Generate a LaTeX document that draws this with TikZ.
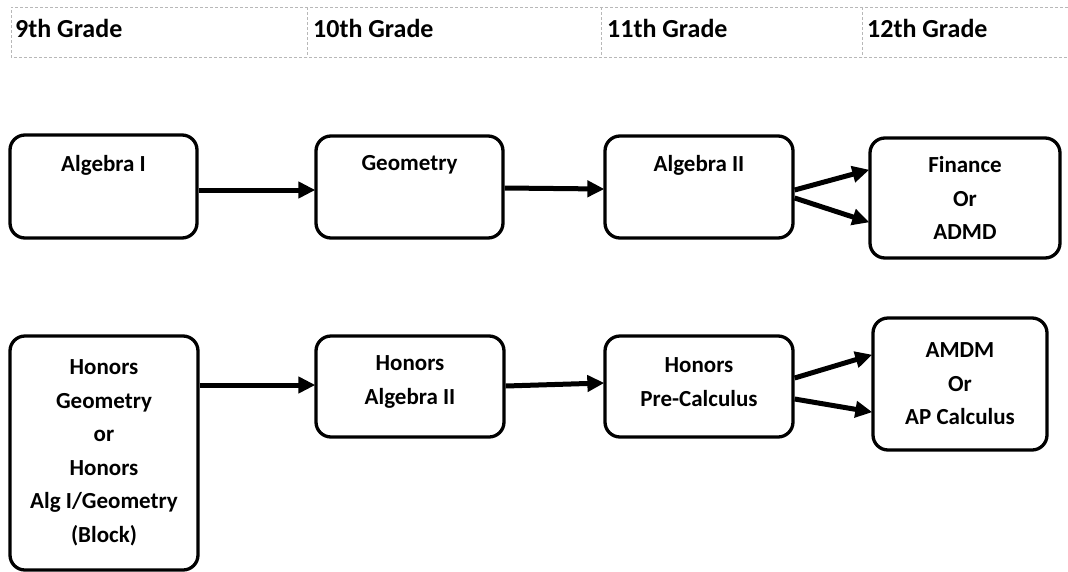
\documentclass[tikz,border=0pt]{standalone}
\usepackage{fontspec}
\setmainfont{Carlito}
\usetikzlibrary{arrows.meta}
\tikzset{
  box/.style={draw=black, line width=3.3pt, rounded corners=15pt, fill=white, inner sep=0pt},
  lbl/.style={font=\bfseries\fontsize{23}{33.5}\selectfont, align=center, inner sep=0pt},
  hdr/.style={font=\bfseries\fontsize{26}{30}\selectfont, anchor=base west, inner sep=0pt},
  grid/.style={draw=black!28, line width=0.8pt, dash pattern=on 3pt off 2pt},
  conn/.style={line width=5pt, -{Triangle[length=17pt,width=16pt]}, shorten >=-1pt}
}
\begin{document}
\begin{tikzpicture}[x=1pt,y=-1pt]
\useasboundingbox (0,0) rectangle (1068,571);
% header table
\coordinate (tl) at (11,7);
\coordinate (tr) at (1068,7);
\coordinate (bl) at (11,57);
\coordinate (br) at (1068,57);
\draw[grid] (tr) -- (tl) -- (bl) -- (br);
\coordinate (d1t) at (307,7); \coordinate (d1b) at (307,57);
\coordinate (d2t) at (601,7); \coordinate (d2b) at (601,57);
\coordinate (d3t) at (862,7); \coordinate (d3b) at (862,57);
\draw[grid] (d1t) -- (d1b);
\draw[grid] (d2t) -- (d2b);
\draw[grid] (d3t) -- (d3b);
\node[hdr] (h9) at (15,37) {9th Grade};
\node[hdr] (h10) at (313,37) {10th Grade};
\node[hdr] (h11) at (607,37) {11th Grade};
\node[hdr] (h12) at (867,37) {12th Grade};

% row 1
\node[box, minimum width=187pt, minimum height=103pt] (alg1) at (103.5,186.5) {};
\node[lbl] (alg1t) at (103.5,165) {Algebra I};
\node[box, minimum width=187pt, minimum height=102pt] (geo) at (409.5,187) {};
\node[lbl] (geot) at (409.5,165) {Geometry};
\node[box, minimum width=188pt, minimum height=102pt] (alg2) at (699,187) {};
\node[lbl] (alg2t) at (699,165) {Algebra II};
\node[box, minimum width=190pt, minimum height=120pt, lbl] (fin) at (965,198) {Finance\\Or\\ADMD};

% row 2
\node[box, minimum width=188pt, minimum height=234pt, lbl] (hgeo) at (104,453) {Honors\\Geometry\\or\\Honors\\Alg I/Geometry\\(Block)};
\node[box, minimum width=188pt, minimum height=101pt] (halg2) at (410,386.5) {};
\node[lbl] (halg2t) at (410,382) {Honors\\Algebra II};
\node[box, minimum width=188pt, minimum height=101pt] (hpc) at (699,386.5) {};
\node[lbl] (hpct) at (699,382) {Honors\\Pre-Calculus};
\node[box, minimum width=174pt, minimum height=132pt, lbl] (amdm) at (960,384) {AMDM\\Or\\AP Calculus};

% connectors
\draw[conn] (alg1.east |- 0,190) -- (geo.west |- 0,190);
\draw[conn] (geo.east |- 0,188) -- (alg2.west |- 0,189);
\draw[conn] (alg2.east |- 0,190) -- (fin.west |- 0,170);
\draw[conn] (alg2.east |- 0,198) -- (fin.west |- 0,222);
\draw[conn] (hgeo.east |- 0,385) -- (halg2.west |- 0,385);
\draw[conn] (halg2.east |- 0,386) -- (hpc.west |- 0,383);
\draw[conn] (hpc.east |- 0,378) -- (amdm.west |- 0,355);
\draw[conn] (hpc.east |- 0,399) -- (amdm.west |- 0,412);
\end{tikzpicture}
\end{document}
